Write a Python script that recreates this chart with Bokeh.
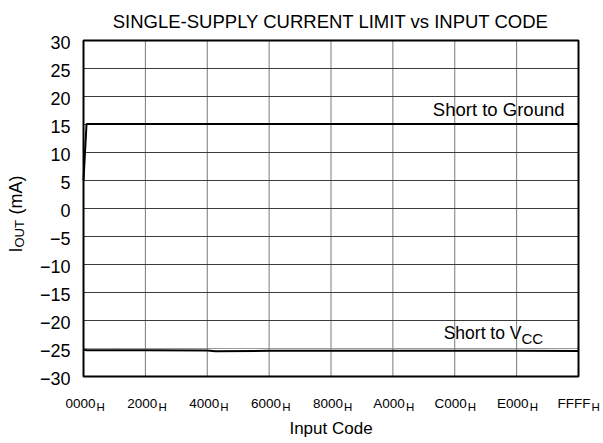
import numpy as np
from bokeh.plotting import figure
from bokeh.models import Range1d
from bokeh.core.properties import value
from bokeh.embed import file_html
from bokeh.resources import INLINE

# ---- data ----
gnd_code = [0, 400, 4096, 8192, 16384, 24576, 32768, 40960, 49152, 57344, 65535]
gnd_ma = [5.0, 15.1, 15.1, 15.1, 15.1, 15.1, 15.1, 15.1, 15.1, 15.1, 15.1]
vcc_code = [0, 400, 4096, 8192, 16384, 17500, 24576, 32768, 40960, 49152, 57344, 65535]
vcc_ma = [-25.2, -25.3, -25.3, -25.3, -25.35, -25.5, -25.4, -25.4, -25.4, -25.4, -25.4, -25.45]
x_ticks = [0, 8192, 16384, 24576, 32768, 40960, 49152, 57344, 65535]
x_tick_labels = ["0000", "2000", "4000", "6000", "8000", "A000", "C000", "E000", "FFFF"]
y_ticks = list(range(-30, 31, 5))
y_tick_labels = [str(t).replace("-", "\u2212") for t in y_ticks]
X_MIN, X_MAX, Y_MIN, Y_MAX = 0, 65535, -30, 30

# ---- layout (pixels of the canvas) ----
W, H = 603, 443
L, R, T, B = 83, 578, 40, 376
SHIFT = 6.5  # baseline correction of the svg text renderer
xpp = (X_MAX - X_MIN) / (R - L)
ypp = (Y_MAX - Y_MIN) / (B - T)
x_start = X_MIN - L * xpp
x_end = X_MAX + (W - R) * xpp
y_end = Y_MAX + T * ypp
y_start = Y_MIN - (H - B) * ypp


def X(px):
    return x_start + px * xpp


def Y(py):
    return y_end - py * ypp


FONT = "Liberation Sans"

p = figure(width=W, height=H, output_backend="svg", toolbar_location=None,
           x_range=Range1d(x_start, x_end), y_range=Range1d(y_start, y_end),
           min_border=0)
p.title.visible = False
p.axis.visible = False
p.grid.visible = False
p.outline_line_color = None
p.background_fill_color = "white"
p.border_fill_color = "white"

gx = x_ticks[1:-1]
p.segment(x0=gx, y0=[Y_MIN] * len(gx), x1=gx, y1=[Y_MAX] * len(gx),
          line_color="#7a7a7a", line_width=1)
gy = y_ticks[1:-1]
p.segment(x0=[X_MIN] * len(gy), y0=gy, x1=[X_MAX] * len(gy), y1=gy,
          line_color="#3c3c3c", line_width=1)

p.line(vcc_code, [-25.0] * len(vcc_code), line_color="#9a9a9a", line_width=1)
p.line(gnd_code, gnd_ma, line_color="black", line_width=2)
p.line(vcc_code, vcc_ma, line_color="black", line_width=2)

p.quad(left=[X_MIN], right=[X_MAX], bottom=[Y_MIN], top=[Y_MAX],
       fill_color=None, line_color="black", line_width=2)


def txt(x, y, t, size, align="left", font=FONT, angle=0.0):
    p.text(x=x, y=y, text=t, angle=angle, text_font=value(font),
           text_font_size=value(size), text_align=align, text_baseline="alphabetic",
           text_color="black")


# title
txt([X((L + R) / 2)], [Y(27 - SHIFT)], ["SINGLE-SUPPLY CURRENT LIMIT vs INPUT CODE"], "18.5px", "center")

# y tick labels
txt([X(L - 13)] * len(y_ticks), [t - (8 - SHIFT) * ypp for t in y_ticks], y_tick_labels, "18px", "right")

# x tick labels with subscript H
txt([t + 12 * xpp for t in x_ticks], [Y(409 - SHIFT)] * len(x_ticks), x_tick_labels, "13.5px", "right")
txt([t + 13 * xpp for t in x_ticks], [Y(413 - SHIFT)] * len(x_ticks), ["H"] * len(x_ticks), "11.5px", "left")

# x axis title
txt([X((L + R) / 2)], [Y(434 - SHIFT)], ["Input Code"], "17px", "center")

# y axis title: I_OUT (mA), rotated
txt([X(22 - SHIFT)], [Y(252)], ["I"], "18px", angle=np.pi / 2)
txt([X(25 - SHIFT)], [Y(247)], ["OUT"], "13px", angle=np.pi / 2)
txt([X(22 - SHIFT)], [Y(214)], ["(mA)"], "18px", angle=np.pi / 2)

# series annotations
txt([X(564)], [Y(115 - SHIFT)], ["Short to Ground"], "18.5px", "right")
txt([X(521)], [Y(339 - SHIFT)], ["Short to V"], "17.5px", "right")
txt([X(521)], [Y(344 - SHIFT)], ["CC"], "15px", "left")

open("out.html", "w").write(file_html(p, INLINE))
